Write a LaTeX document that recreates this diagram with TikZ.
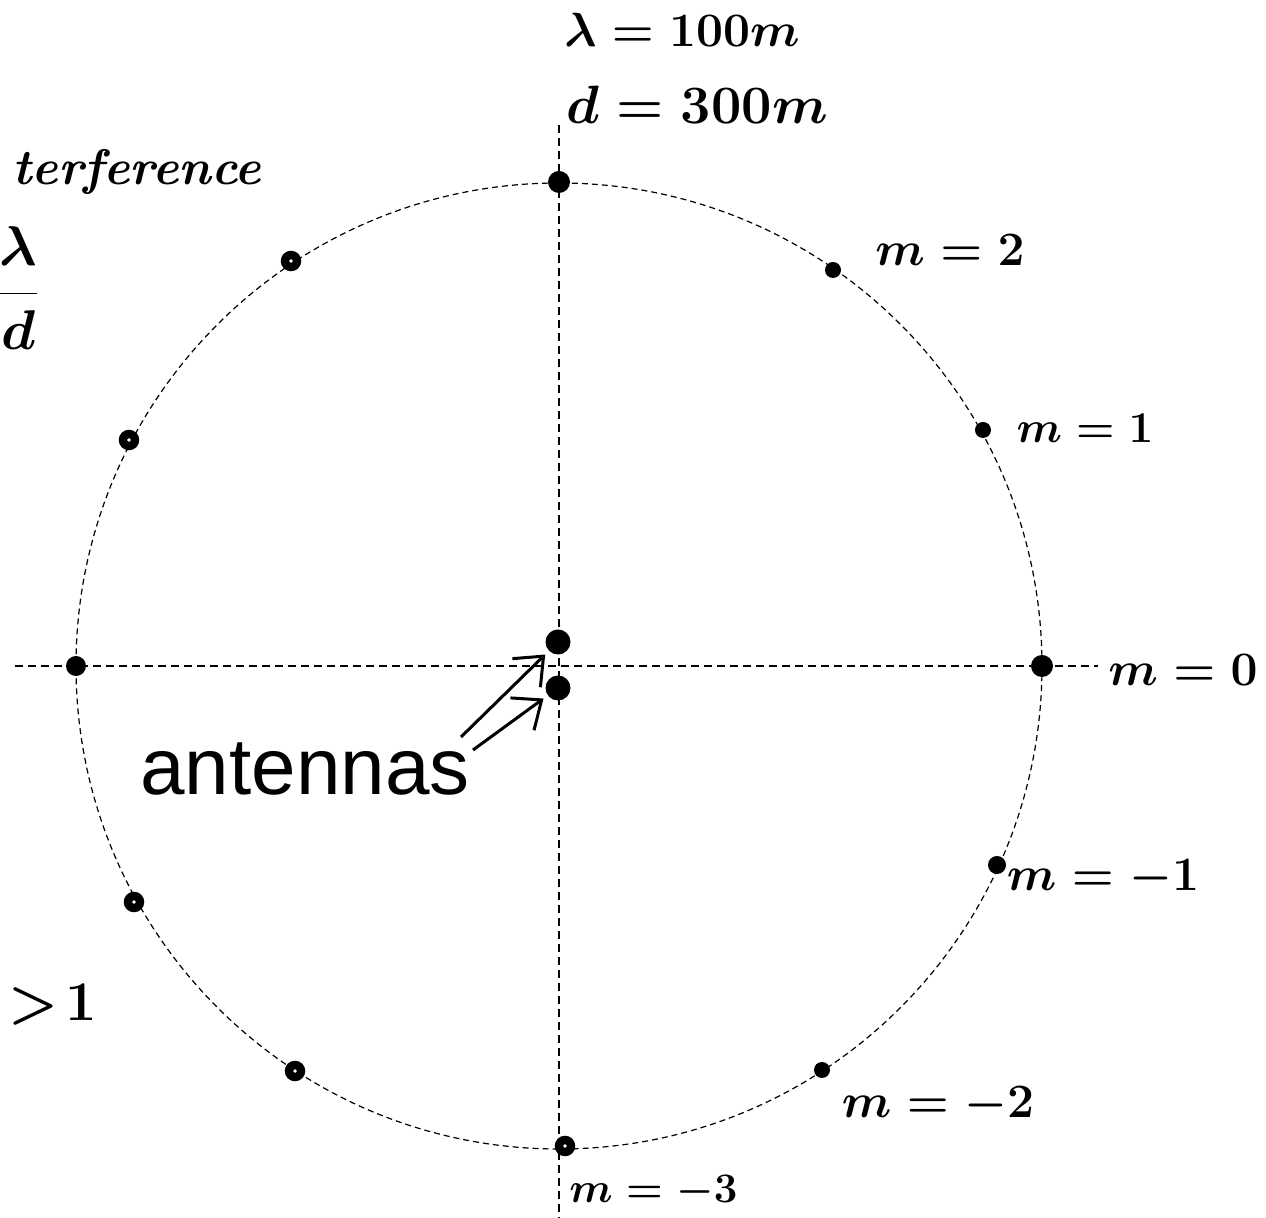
\RequirePackage{fix-cm}
\documentclass[tikz,border=0pt]{standalone}
\usepackage{fontspec}
\newfontfamily\arialfont{Liberation Sans}
\usetikzlibrary{arrows.meta}
\tikzset{
  axis/.style={line width=0.7pt, dash pattern=on 4pt off 2.5pt},
  dashedcircle/.style={line width=0.6pt, dash pattern=on 3pt off 2pt},
  fdot/.style={circle, fill=black, inner sep=0pt, minimum size=8pt},
  bigdot/.style={circle, fill=black, inner sep=0pt, minimum size=11pt},
  ringdot/.style={circle, draw=black, line width=4.2pt, inner sep=0pt, minimum size=6pt},
  antenna/.style={circle, fill=black, inner sep=0pt, minimum size=12.5pt},
  arr/.style={line width=1.5pt, -{Straight Barb[length=12pt, width=20pt, line width=1.5pt]}, shorten >=2.5pt},
  hand/.style={inner sep=0pt, font=\fontsize{24}{28}\selectfont\boldmath},
}
\begin{document}
\begin{tikzpicture}[x=0.5pt, y=-0.5pt]
\useasboundingbox (0,0) rectangle (1266,1218);
% axes and circle
\coordinate (c) at (559,666);
\coordinate (hl) at (15,666);
\coordinate (hr) at (1098,666);
\coordinate (vt) at (559,125);
\coordinate (vb) at (559,1218);
\draw[axis] (hl) -- (hr);
\draw[axis] (vt) -- (vb);
\draw[dashedcircle] (c) circle [radius=241.5pt];
% points on circle (right: orders)
\node[bigdot] (top) at (559,182) {};
\node[fdot] (m2) at (833,270) {};
\node[fdot] (m1) at (983,430) {};
\node[bigdot] (m0) at (1042,666) {};
\node[fdot, minimum size=9pt] (mm1) at (997,865) {};
\node[fdot] (mm2) at (822,1070) {};
\node[ringdot] (mm3) at (565,1146) {};
% left points
\node[ringdot] (l1) at (291,261) {};
\node[ringdot] (l2) at (129,440) {};
\node[bigdot, minimum size=10pt] (l3) at (76,666) {};
\node[ringdot] (l4) at (134,902) {};
\node[ringdot] (l5) at (295,1071) {};
% antennas
\node[antenna] (a1) at (558,642) {};
\node[antenna] (a2) at (558,688) {};
\node[anchor=base west, inner sep=0pt, font=\arialfont\fontsize{40}{44}\selectfont] (lab) at (140,795) {antennas};
\coordinate (s1) at (461,737);
\coordinate (s2) at (473,750);
\draw[arr] (s1) -- (a1);
\draw[arr] (s2) -- (a2);
% handwritten labels
\node[hand] (lam) at (682,30) {$\lambda=100m$};
\node[hand, font=\fontsize{27}{30}\selectfont\boldmath] (dd) at (697,105) {$d=300m$};
\node[hand] (t2) at (950,250) {$m=2$};
\node[hand, font=\fontsize{22}{26}\selectfont\boldmath] (t1) at (1085,428) {$m=1$};
\node[hand] (t0) at (1183,670) {$m=0$};
\node[hand] (tm1) at (1103,878) {$m=-1$};
\node[hand] (tm2) at (938,1105) {$m=-2$};
\node[hand, anchor=west, font=\fontsize{21}{24}\selectfont\boldmath] (tm3) at (569,1192) {$m=-3$};
\node[inner sep=0pt, anchor=west, font=\fontsize{25}{30}\selectfont\bfseries\itshape] (interf) at (12,172) {terference};
\node[inner sep=0pt, anchor=east, font=\fontsize{28}{32}\selectfont\boldmath] (frac) at (40,288) {$\displaystyle\frac{\lambda}{d}$};
\node[hand, anchor=west, font=\fontsize{28}{32}\selectfont\boldmath] (gt) at (8,1005) {$>\!1$};
\end{tikzpicture}
\end{document}
